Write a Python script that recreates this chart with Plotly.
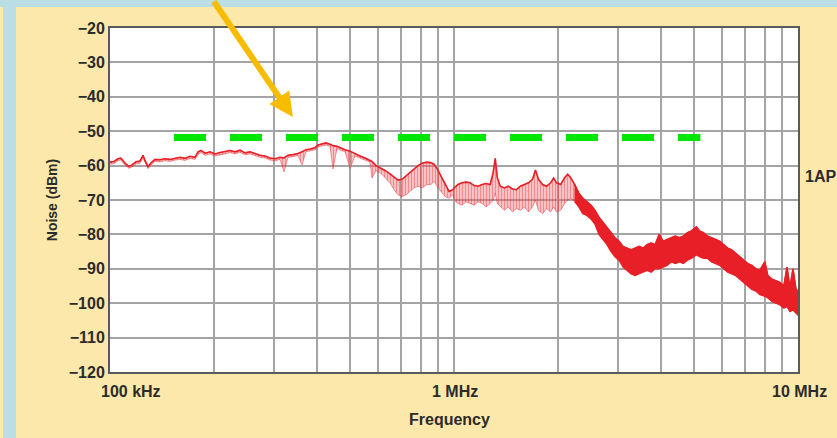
import numpy as np
import plotly.graph_objects as go

# ---------------- data ----------------
freq_khz = [
    100, 102.7, 105.5, 107.6, 110.6, 113.6, 115.9, 119.0, 122.2, 124.7,
    126.4, 129.0, 131.6, 135.2, 139.8, 144.5, 149.4, 154.5, 159.8, 165.2,
    170.9, 176.6, 180.3, 183.9, 188.9, 195.3, 202.0, 208.8, 216.0, 223.3,
    230.9, 238.8, 246.9, 255.3, 263.9, 272.9, 282.2, 291.8, 301.8, 312.0,
    320.5, 329.2, 340.4, 352.0, 361.5, 371.3, 381.4, 394.4, 402.4, 413.4,
    424.6, 436.2, 444.8, 456.9, 469.4, 482.2, 498.6, 515.5, 533.0, 551.2,
    569.9, 577.6, 593.3, 609.4, 630.3, 651.6, 669.3, 687.4, 706.1, 725.3,
    745.0, 765.2, 786.0, 807.2, 834.6, 857.2, 874.7, 892.4, 916.6, 941.5,
    967.1, 993.3,
    1000, 1027, 1055, 1084, 1114, 1144, 1175, 1207, 1240, 1274,
    1300, 1318, 1336, 1363, 1400, 1438, 1478, 1518, 1560, 1602,
    1646, 1691, 1725, 1760, 1809, 1858, 1909, 1948, 1987, 2042,
    2097, 2140, 2184,
    2243, 2305, 2368, 2432, 2499, 2567, 2637, 2709, 2783, 2859,
    2937, 3017, 3099, 3184, 3271, 3360, 3451, 3546, 3642, 3742,
    3844, 3949, 4056, 4167, 4281, 4398, 4519, 4642, 4769, 4899,
    5066, 5170, 5311, 5456, 5605, 5758, 5916, 6077, 6243, 6413,
    6588, 6768, 6953, 7143, 7338, 7538, 7744, 8008, 8171, 8394,
    8623, 8858, 9100, 9287, 9475, 9670, 9867, 10000,
]

# upper edge of the measured trace (dBm)
noise_hi_dbm = [
    -59.0, -58.8, -58.0, -57.8, -59.3, -60.3, -59.8, -58.9, -58.7, -57.0,
    -58.5, -60.3, -59.2, -58.2, -58.3, -58.0, -58.2, -57.8, -57.6, -57.9,
    -57.3, -57.6, -56.0, -55.6, -56.4, -56.0, -56.6, -56.2, -56.0, -55.6,
    -56.0, -55.5, -56.3, -56.0, -56.5, -57.0, -57.2, -57.8, -58.0, -57.6,
    -57.8, -57.0, -56.8, -56.5, -56.0, -55.4, -55.2, -54.8, -54.0, -53.8,
    -53.4, -53.8, -54.2, -54.4, -55.0, -55.4, -55.8, -56.6, -57.2, -57.8,
    -58.4, -58.8, -60.0, -60.6, -61.4, -62.4, -63.2, -64.2, -64.0, -63.0,
    -62.0, -61.0, -60.0, -59.3, -59.0, -59.2, -59.6, -60.8, -63.0, -65.5,
    -67.5, -67.0,
    -66.5, -65.5, -65.0, -64.8, -65.0, -65.8, -66.0, -65.5, -65.2, -65.5,
    -62.0, -57.9, -63.5, -66.0, -66.5, -66.0, -66.8, -67.0, -66.0, -65.5,
    -65.0, -64.0, -61.3, -64.0, -65.5, -66.0, -65.0, -63.6, -65.0, -65.5,
    -63.5, -62.5, -63.5,
    -65.5, -68.0, -69.5, -70.5, -71.5, -73.0, -75.0, -76.5, -78.0, -79.5,
    -81.0, -82.0, -83.5, -84.0, -84.5, -84.0, -83.5, -84.0, -83.0, -82.5,
    -83.0, -80.0, -82.0, -81.5, -81.0, -80.5, -81.0, -80.5, -79.5, -79.0,
    -77.8, -79.0, -79.5, -80.5, -81.0, -81.5, -82.0, -83.0, -84.0, -84.5,
    -85.5, -86.5, -87.5, -88.5, -89.0, -90.0, -90.5, -88.0, -92.0, -93.0,
    -93.5, -94.0, -95.0, -89.5, -95.5, -90.0, -96.0, -96.5,
]

# lower edge of the measured trace (dBm), incl. downward spikes
noise_lo_dbm = [
    -59.6, -59.4, -58.6, -58.4, -59.9, -60.8, -60.4, -59.5, -59.3, -57.8,
    -59.2, -60.9, -59.8, -58.8, -58.9, -58.6, -58.8, -58.4, -58.2, -58.5,
    -57.9, -58.2, -56.8, -56.2, -57.0, -56.6, -57.2, -56.8, -56.6, -56.2,
    -56.6, -56.1, -56.9, -56.6, -57.1, -57.6, -57.8, -58.4, -58.6, -58.2,
    -61.8, -57.6, -57.4, -57.1, -59.8, -56.0, -55.8, -55.4, -54.6, -54.4,
    -54.0, -54.4, -61.0, -55.0, -55.6, -56.0, -60.8, -57.2, -57.8, -58.4,
    -59.0, -63.6, -61.5, -62.0, -63.5, -65.0, -67.0, -68.5, -69.0, -68.5,
    -67.5, -66.5, -66.0, -66.5, -65.5, -65.5, -64.5, -66.0, -67.5, -69.0,
    -69.5, -68.5,
    -70.0, -71.0, -71.5, -70.5, -71.0, -71.5, -70.5, -71.0, -72.0, -71.0,
    -70.0, -68.0, -71.0, -72.0, -73.0, -72.0, -73.5, -72.5, -73.0, -72.0,
    -73.5, -72.0, -70.0, -73.0, -74.0, -72.5, -73.5, -72.0, -73.5, -73.0,
    -71.0, -70.0, -69.5,
    -70.5, -72.0, -74.0, -74.5, -75.5, -77.0, -80.0, -81.5, -83.0, -85.0,
    -86.5, -87.5, -89.5, -90.5, -91.5, -92.0, -91.5, -91.0, -90.5, -91.0,
    -90.0, -90.0, -89.5, -89.0, -88.0, -88.5, -88.0, -88.5, -87.5, -87.0,
    -86.0, -86.5, -87.0, -87.0, -88.0, -88.5, -89.0, -90.0, -91.0, -91.5,
    -92.0, -93.0, -94.0, -95.0, -96.0, -96.5, -97.5, -98.0, -98.5, -99.5,
    -100.0, -100.5, -101.5, -101.0, -102.5, -102.0, -103.0, -103.5,
]

limit_khz = [153.5, 5204]
limit_dbm = [-51.8, -51.8]

grid_khz = [100, 200, 300, 400, 500, 600, 700, 800, 900,
            1000, 2000, 3000, 4000, 5000, 6000, 7000, 8000, 9000, 10000]
x_label_khz = [100, 1000, 10000]
x_label_text = ["100 kHz", "1 MHz", "10 MHz"]
y_ticks = [-120, -110, -100, -90, -80, -70, -60, -50, -40, -30, -20]

# ---------------- styling ----------------
FONT = "Liberation Sans, Arial, Helvetica, sans-serif"
TXT = "#2b2b2b"
RED = "#e81f27"
CREAM = "#fce8aa"
BLUE = "#b9dee3"
GRID = "#a4a4a4"

SPLIT = 2243  # where the trace turns into the dense solid band


def band(idx):
    xs = [freq_khz[i] for i in idx]
    ys_hi = [noise_hi_dbm[i] for i in idx]
    ys_lo = [noise_lo_dbm[i] for i in idx]
    return xs + xs[::-1], ys_hi + ys_lo[::-1]


light_idx = [i for i, f in enumerate(freq_khz) if f <= SPLIT]
solid_idx = [i for i, f in enumerate(freq_khz) if f >= SPLIT]

fig = go.Figure()

lx, ly = band(light_idx)
fig.add_trace(go.Scatter(x=lx, y=ly, mode="lines", fill="toself",
                         fillcolor="rgba(238,80,84,0.30)",
                         fillpattern=dict(shape="|", size=3, solidity=0.5,
                                          fgcolor="rgba(232,31,39,0.85)",
                                          bgcolor="rgba(242,120,122,0.30)"),
                         line=dict(color="rgba(236,40,46,0.6)", width=0.8),
                         hoverinfo="skip", showlegend=False))
sx, sy = band(solid_idx)
fig.add_trace(go.Scatter(x=sx, y=sy, mode="lines", fill="toself",
                         fillcolor=RED, line=dict(color=RED, width=1.2),
                         hoverinfo="skip", showlegend=False))
fig.add_trace(go.Scatter(x=freq_khz, y=noise_hi_dbm, mode="lines",
                         line=dict(color=RED, width=1.6),
                         showlegend=False))
fig.add_trace(go.Scatter(x=limit_khz, y=limit_dbm, mode="lines",
                         line=dict(color="#00e600", width=7, dash="32px,24px"),
                         showlegend=False))

axis_common = dict(showgrid=True, gridcolor=GRID, gridwidth=2,
                   showline=True, linecolor="#5a5a5a", linewidth=2,
                   mirror=True, ticks="", zeroline=False, automargin=False)

fig.update_xaxes(type="log", range=[2, 4], tickmode="array",
                 tickvals=grid_khz, showticklabels=False, **axis_common)
fig.update_yaxes(range=[-120, -20], tickmode="array", tickvals=y_ticks,
                 tickfont=dict(family=FONT, size=16, color=TXT, weight="bold"),
                 title=dict(text="Noise (dBm)", standoff=8,
                            font=dict(family=FONT, size=14, color=TXT, weight="bold")),
                 **axis_common)

W, H = 837, 438
L, R, T, B = 110, 39, 28, 66
pw, ph = W - L - R, H - T - B


def px_x(p):
    return (p - L) / pw


def px_y(p):
    return (H - B - p) / ph


annotations = []
for f, t in zip(x_label_khz, x_label_text):
    first = f == x_label_khz[0]
    annotations.append(dict(x=np.log10(f), xref="x", y=px_y(391), yref="paper",
                            text=t, showarrow=False,
                            xanchor="left" if first else "center",
                            xshift=-11 if first else 1,
                            yanchor="middle",
                            font=dict(family=FONT, size=16, color=TXT, weight="bold")))
annotations.append(dict(x=px_x(449.5), y=px_y(419), xref="paper", yref="paper",
                        text="Frequency", showarrow=False, xanchor="center",
                        yanchor="middle",
                        font=dict(family=FONT, size=16, color=TXT, weight="bold")))
annotations.append(dict(x=px_x(803), y=px_y(176), xref="paper", yref="paper",
                        text="1AP", showarrow=False, xanchor="left",
                        yanchor="middle",
                        font=dict(family=FONT, size=16, color=TXT, weight="bold")))
annotations.append(dict(x=np.log10(340), y=-45.9, xref="x", yref="y", text="",
                        showarrow=True, ax=-80, ay=-125, axref="pixel", ayref="pixel",
                        arrowcolor="#f7bc00", arrowwidth=6, arrowhead=2,
                        arrowsize=0.8, standoff=0))

shapes = [
    dict(type="rect", xref="paper", yref="paper", layer="below",
         x0=px_x(-10), x1=px_x(W + 10), y0=px_y(7), y1=px_y(-10),
         fillcolor=BLUE, line=dict(width=0)),
    dict(type="rect", xref="paper", yref="paper", layer="below",
         x0=px_x(3), x1=px_x(16), y0=px_y(H + 10), y1=px_y(-10),
         fillcolor=BLUE, line=dict(width=0)),
]

fig.update_layout(width=W, height=H, margin=dict(l=L, r=R, t=T, b=B, pad=0),
                  paper_bgcolor=CREAM, plot_bgcolor="white",
                  showlegend=False, annotations=annotations, shapes=shapes,
                  font=dict(family=FONT, color=TXT))

fig.write_html("out.html")
